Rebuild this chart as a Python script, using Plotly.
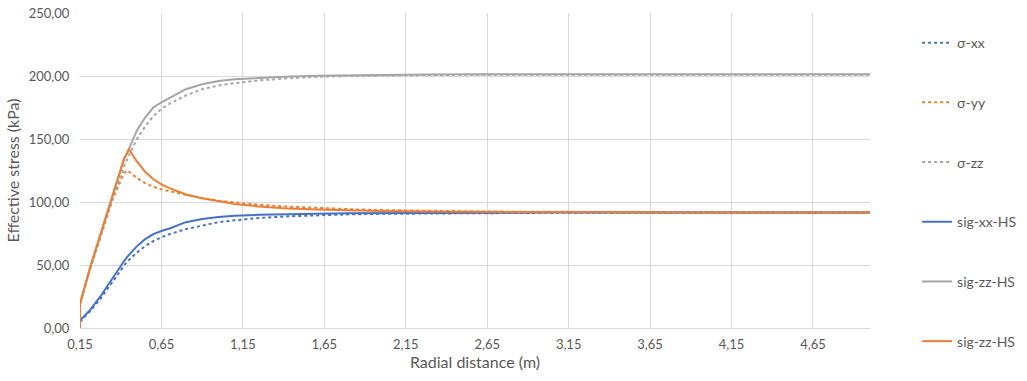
import plotly.graph_objects as go

x = [0.15, 0.15, 0.21, 0.28, 0.35, 0.42, 0.44, 0.45, 0.5, 0.55, 0.6, 0.65, 0.7, 0.8, 0.9,
     1.0, 1.1, 1.25, 1.4, 1.6, 1.8, 2.0, 2.3, 2.6, 3.0, 3.5, 4.0, 4.5, 5.0]

sigma_xx = [5, 5, 13, 24, 37, 50, 53, 54, 60, 65, 69, 72, 74.5, 78.5, 81.5,
            84, 85.5, 87.3, 88.5, 89.5, 90.2, 90.6, 91, 91.2, 91.4, 91.5, 91.5, 91.5, 91.5]
sigma_yy = [0, 19, 46, 75, 102, 123, 125, 124, 119, 115, 112, 110, 108.5, 105.5, 103,
            101, 99.5, 97.8, 96.5, 95.3, 94.3, 93.6, 92.9, 92.5, 92.2, 92, 91.9, 91.8, 91.8]
sigma_zz = [0, 19, 46, 75, 102, 128, 134, 137, 150, 160, 168, 174, 178, 184.5, 189.5,
            192.5, 194.3, 196.5, 198, 199.3, 200, 200.5, 200.8, 201, 201, 201, 201, 201, 201]
sig_xx_hs = [6, 6, 14, 26, 40, 53, 56.5, 58, 65, 70.5, 74.5, 77, 79, 84, 86.5,
             88, 89, 89.8, 90.3, 90.7, 91, 91.2, 91.4, 91.5, 91.6, 91.6, 91.6, 91.6, 91.6]
sig_zz_hs_g = [0, 19, 47, 76, 105, 134, 139, 142, 157, 167, 175, 179, 182.5, 189.5, 193.5,
               196, 197.4, 198.6, 199.5, 200.2, 200.6, 200.9, 201.2, 201.3, 201.3, 201.3, 201.3, 201.3, 201.3]
sig_zz_hs_o = [0, 19, 47, 76, 105, 134, 139, 142, 132, 124, 118, 114, 111, 106, 103,
               100.5, 98.5, 96.5, 95, 94, 93.3, 92.8, 92.4, 92.1, 91.9, 91.8, 91.7, 91.7, 91.7]

BLUE = "#4472C4"
ORANGE = "#ED7D31"
GRAY = "#A5A5A5"
TXT = "#595959"

series = [
    ("σ-xx", sigma_xx, BLUE, "dot"),
    ("σ-yy", sigma_yy, ORANGE, "dot"),
    ("σ-zz", sigma_zz, GRAY, "dot"),
    ("sig-xx-HS", sig_xx_hs, BLUE, "solid"),
    ("sig-zz-HS", sig_zz_hs_g, GRAY, "solid"),
    ("sig-zz-HS", sig_zz_hs_o, ORANGE, "solid"),
]

fig = go.Figure()
for i, (name, y, color, dash) in enumerate(series):
    fig.add_trace(go.Scatter(
        x=x, y=y, name=name, mode="lines",
        line=dict(color=color, width=2, dash=dash),
        legendgroup=f"g{i}",
    ))

fig.update_layout(
    width=1027, height=381,
    margin=dict(l=80, r=157, t=13, b=53, autoexpand=False),
    paper_bgcolor="white", plot_bgcolor="white",
    separators=",.",
    font=dict(family="Lato, Carlito, Calibri, sans-serif", size=13, color=TXT),
    showlegend=True,
    legend=dict(
        x=0.893, xanchor="left", y=0.929, yanchor="top",
        xref="container", yref="container",
        tracegroupgap=38.5,
        font=dict(size=14, color=TXT),
        bgcolor="rgba(0,0,0,0)",
        maxheight=1.0,
    ),
    xaxis=dict(
        range=[0.15, 5.0], tick0=0.15, dtick=0.5, tickformat=".2f",
        showgrid=True, gridcolor="#D9D9D9", gridwidth=1,
        showline=True, linecolor="#D9D9D9", linewidth=1,
        zeroline=False, ticks="outside", ticklen=4, tickcolor="rgba(0,0,0,0)",
        tickfont=dict(size=13, color=TXT),
        title=dict(text="Radial distance (m)", font=dict(size=16, color=TXT), standoff=6),
    ),
    yaxis=dict(
        range=[0, 250], dtick=50, tickformat=".2f",
        showgrid=True, gridcolor="#D9D9D9", gridwidth=1,
        showline=False, zeroline=False, ticks="outside", ticklen=7, tickcolor="rgba(0,0,0,0)",
        tickfont=dict(size=13, color=TXT),
        title=dict(text="Effective stress (kPa)", font=dict(size=16, color=TXT), standoff=5),
    ),
)

fig.write_html("out.html", config={"displayModeBar": False},
               post_script="document.body.style.margin='0';")
